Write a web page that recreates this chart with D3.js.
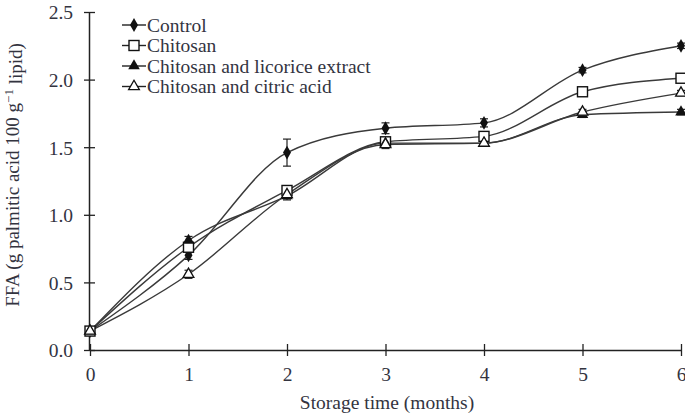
<!DOCTYPE html>
<html>
<head>
<meta charset="utf-8">
<script src="https://cdn.jsdelivr.net/npm/d3@7/dist/d3.min.js"></script>
<style>
  html, body { margin: 0; padding: 0; background: #fff; }
  svg text { font-family: "Liberation Serif", "DejaVu Serif", serif; fill: #33343f; }
</style>
</head>
<body>
<svg id="chart" width="685" height="418"></svg>
<script>
// Storage months on the x axis
const months = [0, 1, 2, 3, 4, 5, 6];

// FFA (g palmitic acid 100 g^-1 lipid) per treatment
const controlFFA   = [0.14, 0.70, 1.46, 1.64, 1.68, 2.07, 2.25];
const chitosanFFA  = [0.14, 0.76, 1.18, 1.54, 1.58, 1.91, 2.01];
const licoriceFFA  = [0.14, 0.81, 1.14, 1.53, 1.53, 1.74, 1.76];
const citricFFA    = [0.14, 0.56, 1.15, 1.52, 1.53, 1.76, 1.90];

// Standard deviations shown as error bars
const controlErr  = [0.02, 0.03, 0.10, 0.04, 0.03, 0.02, 0.02];
const chitosanErr = [0.02, 0.03, 0.03, 0.03, 0.03, 0.02, 0.02];
const licoriceErr = [0.02, 0.03, 0.03, 0.03, 0.02, 0.02, 0.02];
const citricErr   = [0.02, 0.03, 0.03, 0.03, 0.02, 0.02, 0.02];

const seriesNames = ["Control", "Chitosan", "Chitosan and licorice extract", "Chitosan and citric acid"];
const seriesSymbols = ["diamond", "square", "triangleFilled", "triangleOpen"];

const yTicks = [0.0, 0.5, 1.0, 1.5, 2.0, 2.5];
const xTicks = [0, 1, 2, 3, 4, 5, 6];

const series = [
  { name: seriesNames[0], values: controlFFA,  err: controlErr,  symbol: seriesSymbols[0] },
  { name: seriesNames[1], values: chitosanFFA, err: chitosanErr, symbol: seriesSymbols[1] },
  { name: seriesNames[2], values: licoriceFFA, err: licoriceErr, symbol: seriesSymbols[2] },
  { name: seriesNames[3], values: citricFFA,   err: citricErr,   symbol: seriesSymbols[3] }
];

const svg = d3.select("#chart");
const x = d3.scaleLinear().domain([0, 6]).range([90, 681]);
const y = d3.scaleLinear().domain([0, 2.5]).range([350, 12]);

const fontSize = 19.5;
const ink = "#222";

// Axes with ticks crossing the axis line
function crossTicks(g, horizontal) {
  g.selectAll(".tick line").attr("stroke", ink).attr("stroke-width", 1.3);
  g.selectAll(".tick line").each(function() {
    const l = d3.select(this);
    if (horizontal) l.attr("y1", -6).attr("y2", 6);
    else l.attr("x1", -5).attr("x2", 6);
  });
  g.select(".domain").attr("stroke", ink).attr("stroke-width", 1.5);
  g.selectAll(".tick text").style("font-size", fontSize + "px");
}

const xAxis = svg.append("g")
  .attr("transform", `translate(0,${y(0)})`)
  .call(d3.axisBottom(x).tickValues(xTicks).tickFormat(d3.format("d")).tickSizeOuter(0).tickPadding(11));
crossTicks(xAxis, true);

const yAxis = svg.append("g")
  .attr("transform", `translate(${x(0) - 1},0)`)
  .call(d3.axisLeft(y).tickValues(yTicks).tickFormat(d3.format(".1f")).tickSizeOuter(0).tickPadding(10));
crossTicks(yAxis, false);
yAxis.selectAll(".tick text").attr("dy", "0.35em");

// Axis titles
svg.append("text")
  .attr("x", 387).attr("y", 409)
  .attr("text-anchor", "middle")
  .style("font-size", fontSize + "px")
  .text("Storage time (months)");

const yTitle = svg.append("text")
  .attr("transform", `translate(19,${y(1.25) - 6}) rotate(-90)`)
  .attr("text-anchor", "middle")
  .style("font-size", "19px");
yTitle.append("tspan").text("FFA (g palmitic acid 100 g");
yTitle.append("tspan").attr("dy", "-0.45em").style("font-size", "13px").text("\u22121");
yTitle.append("tspan").attr("dy", "0.45em").text(" lipid)");

// Markers
function drawSymbol(g, kind, cx, cy) {
  if (kind === "diamond") {
    g.append("path").attr("d", d3.symbol(d3.symbolDiamond, 55)())
      .attr("transform", `translate(${cx},${cy})`).attr("fill", "#111");
  } else if (kind === "square") {
    g.append("rect").attr("x", cx - 5).attr("y", cy - 5).attr("width", 10).attr("height", 10)
      .attr("fill", "#fff").attr("stroke", "#111").attr("stroke-width", 1.4);
  } else if (kind === "triangleFilled") {
    g.append("path").attr("d", d3.symbol(d3.symbolTriangle, 58)())
      .attr("transform", `translate(${cx},${cy})`).attr("fill", "#111");
  } else {
    g.append("path").attr("d", d3.symbol(d3.symbolTriangle, 50)())
      .attr("transform", `translate(${cx},${cy})`).attr("fill", "#fff")
      .attr("stroke", "#111").attr("stroke-width", 1.3);
  }
}

const line = d3.line()
  .x((d, i) => x(months[i]))
  .y(d => y(d))
  .curve(d3.curveMonotoneX);

const plot = svg.append("g");

// Lines first, so markers sit on top
series.forEach(s => {
  plot.append("path")
    .attr("d", line(s.values))
    .attr("fill", "none")
    .attr("stroke", "#3a3a3a")
    .attr("stroke-width", 1.4);
});

// Error bars
series.forEach(s => {
  s.values.forEach((v, i) => {
    const cx = x(months[i]);
    const g = plot.append("g").attr("stroke", "#222").attr("stroke-width", 1.2);
    g.append("line").attr("x1", cx).attr("x2", cx).attr("y1", y(v - s.err[i])).attr("y2", y(v + s.err[i]));
    g.append("line").attr("x1", cx - 4).attr("x2", cx + 4).attr("y1", y(v + s.err[i])).attr("y2", y(v + s.err[i]));
    g.append("line").attr("x1", cx - 4).attr("x2", cx + 4).attr("y1", y(v - s.err[i])).attr("y2", y(v - s.err[i]));
  });
});

series.forEach(s => {
  s.values.forEach((v, i) => drawSymbol(plot, s.symbol, x(months[i]), y(v)));
});

// Legend
const legend = svg.append("g");
series.forEach((s, i) => {
  const ly = 25 + i * 20.5;
  legend.append("line").attr("x1", 122).attr("x2", 146).attr("y1", ly).attr("y2", ly)
    .attr("stroke", "#222").attr("stroke-width", 1.4);
  drawSymbol(legend, s.symbol, 134, ly);
  legend.append("text").attr("x", 147).attr("y", ly).attr("dy", "0.35em")
    .style("font-size", fontSize + "px").text(s.name);
});
</script>
</body>
</html>
